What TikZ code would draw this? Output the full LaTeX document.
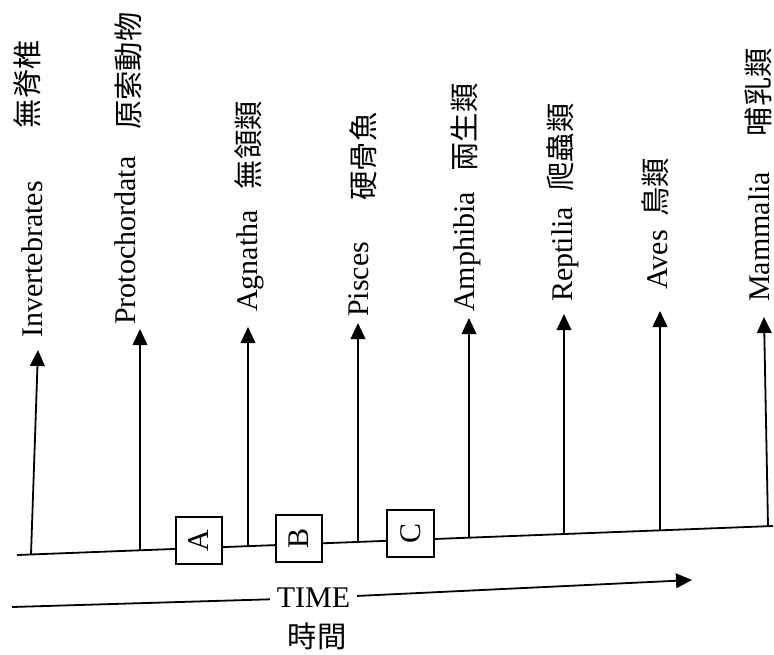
\documentclass[tikz,border=0pt]{standalone}
\usepackage{fontspec}
\setmainfont{Liberation Serif}
\newfontfamily\cjk{Noto Sans CJK TC}
\usetikzlibrary{arrows.meta}
\begin{document}
\begin{tikzpicture}[x=0.75pt,y=-0.75pt,
  ln/.style={line width=1.35pt},
  arr/.style={ln,-{Triangle[length=12pt,width=11pt]}},
  en/.style={rotate=90,anchor=base west,inner sep=0pt,font=\fontsize{22.5}{27}\selectfont},
  zh/.style={rotate=90,anchor=center,inner sep=0pt,font=\cjk\fontsize{22}{26}\selectfont},
  ev/.style={draw,ln,fill=white,minimum size=35pt,inner sep=0pt,rotate=90,font=\fontsize{22.5}{27}\selectfont}]
\useasboundingbox (0,0) rectangle (774,654);

% base line
\coordinate (bs) at (17,555);
\coordinate (be) at (773,526);
\draw[ln] (bs) -- (be);

% branch points and tips
\coordinate (b1) at (31,554.5);  \coordinate (t1) at (38,350);
\coordinate (b2) at (140,550.3); \coordinate (t2) at (140,329);
\coordinate (b3) at (248,546.1); \coordinate (t3) at (248,327);
\coordinate (b4) at (358,541.9); \coordinate (t4) at (358,323);
\coordinate (b5) at (469,537.7); \coordinate (t5) at (469,318);
\coordinate (b6) at (564,534.0); \coordinate (t6) at (564,314);
\coordinate (b7) at (660,530.3); \coordinate (t7) at (660,311);
\coordinate (b8) at (768,526.2); \coordinate (t8) at (764,317);
\foreach \i in {1,...,8} \draw[arr] (b\i) -- (t\i);

% boxes
\node[ev] (A) at (199,540.5) {A};
\node[ev] (B) at (299,538.5) {B};
\node[ev] (C) at (410.5,533.5) {C};

% English labels
\node[en] (l1) at (42,338) {Invertebrates};
\node[en] (l2) at (135,325) {Protochordata};
\node[en] (l3) at (257,312) {Agnatha};
\node[en] (l4) at (368,317) {Pisces};
\node[en] (l5) at (474,312) {Amphibia};
\node[en] (l6) at (572,302) {Reptilia};
\node[en] (l7) at (667,290) {Aves};
\node[en] (l8) at (769,302) {Mammalia};

% Chinese labels
\node[zh] (c1) at (27.5,84) {無脊椎};
\node[zh] (c2) at (128.5,71) {原索動物};
\node[zh] (c3) at (248.5,145) {無頷類};
\node[zh] (c4) at (363.5,156.5) {硬骨魚};
\node[zh] (c5) at (464,127.5) {兩生類};
\node[zh] (c6) at (560.5,147.5) {爬蟲類};
\node[zh] (c7) at (655.5,187) {鳥類};
\node[zh] (c8) at (758.5,92) {哺乳類};

% time arrow
\coordinate (ts) at (12,607);
\coordinate (te) at (692,580);
\node[inner sep=0pt,inner xsep=5pt,font=\fontsize{22.5}{27}\selectfont] (time) at (313.5,598) {TIME};
\node[inner sep=0pt,font=\cjk\fontsize{22}{26}\selectfont] (shijian) at (317,636.5) {時間};
\draw[ln] (ts) -- (time);
\draw[arr] (time) -- (te);
\end{tikzpicture}
\end{document}
